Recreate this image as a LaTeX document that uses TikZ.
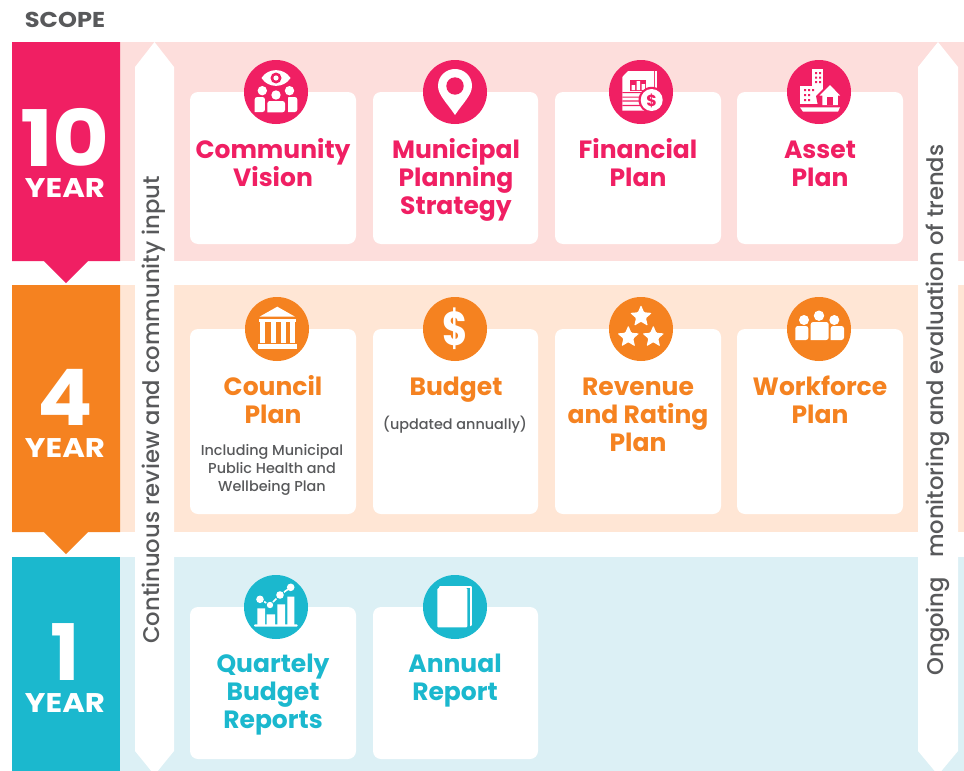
\documentclass[tikz,border=0pt]{standalone}
\usepackage{fontspec}
\setmainfont{Poppins}
\newfontfamily\medfont{Poppins Medium}
\usetikzlibrary{shapes.geometric}
\definecolor{cpink}{HTML}{F01F63}
\definecolor{corange}{HTML}{F58220}
\definecolor{cteal}{HTML}{1BB8CE}
\definecolor{bpink}{HTML}{FDDEDC}
\definecolor{borange}{HTML}{FFE6D5}
\definecolor{bteal}{HTML}{DCF0F5}
\definecolor{cgray}{HTML}{58595B}
\newcommand{\cardbox}[4]{\fill[white,rounded corners=8pt] (#1,#2) rectangle (#3,#4);}
\newcommand{\bodyshape}[4]{\fill[white,rounded corners=2.5pt] (#1,#4) -- (#1,#2) -- (#3,#2) -- (#3,#4) [sharp corners] -- cycle;}
\newcommand{\hdot}[3]{\fill[white] (#1,#2) circle[radius=#3];}
\tikzset{
  title/.style={font=\fontsize{25}{28}\selectfont\bfseries,align=center,inner sep=0pt},
  small/.style={font=\fontsize{14.4}{18}\selectfont\medfont,align=center,inner sep=0pt,text=cgray},
  bignum/.style={font=\fontsize{78}{78}\selectfont\bfseries,inner sep=0pt,text=white},
  yearlab/.style={font=\fontsize{27}{28}\selectfont\bfseries,inner sep=0pt,text=white},
  sidelab/.style={font=\fontsize{22.7}{24}\selectfont\medfont,inner sep=0pt,text=cgray,rotate=90}
}
\begin{document}
\begin{tikzpicture}[x=1pt,y=-1pt]
\useasboundingbox (0,0) rectangle (964,771);
\fill[white] (0,0) rectangle (964,771);
% bands
\fill[bpink] (120,42) rectangle (964,261);
\fill[borange] (120,285) rectangle (964,532);
\fill[bteal] (120,557) rectangle (964,771);
% scope bars
\fill[cpink] (12,42) -- (120,42) -- (120,261) -- (88,261) -- (66,283) -- (44,261) -- (12,261) -- cycle;
\fill[corange] (12,285) -- (120,285) -- (120,532) -- (88,532) -- (66,554) -- (44,532) -- (12,532) -- cycle;
\fill[cteal] (12,557) rectangle (120,771);
% white double arrows
\fill[white] (154.5,42) -- (174,67) -- (174,751) -- (154.5,775) -- (135,751) -- (135,67) -- cycle;
\fill[white] (938,42) -- (958,67) -- (958,751) -- (938,775) -- (918,751) -- (918,67) -- cycle;
% cards
\cardbox{190}{92}{356}{244}\cardbox{373}{92}{538}{244}\cardbox{555}{92}{721}{244}\cardbox{737}{92}{903}{244}
\cardbox{190}{329}{356}{514}\cardbox{373}{329}{538}{514}\cardbox{555}{329}{721}{514}\cardbox{737}{329}{903}{514}
\cardbox{190}{607}{356}{759}\cardbox{373}{607}{538}{759}
% discs
\foreach \cx in {276,455,641,819} \fill[cpink] (\cx,92) circle[radius=32];
\foreach \cx in {277,455,641,819} \fill[corange] (\cx,329) circle[radius=32];
\foreach \cx in {276,455} \fill[cteal] (\cx,607) circle[radius=32];
% community icon
\fill[white] (261.5,78) .. controls (268,67.5) and (284,67.5) .. (290.5,78) .. controls (284,88.5) and (268,88.5) .. (261.5,78) -- cycle;
\fill[cpink] (276,78) circle[radius=5.5];
\hdot{276}{78}{2.6}
\hdot{262.3}{90.7}{4.7}\hdot{289.5}{90.7}{4.7}
\bodyshape{254.7}{97}{265}{112}\bodyshape{286.7}{97}{297.3}{112}
\fill[cpink] (264.5,96) rectangle (287.5,113);
\fill[cpink] (276,95) circle[radius=6];
\hdot{276}{95}{4.7}
\bodyshape{267.3}{101}{285}{112.3}
% pin icon
\fill[white] (455,115) .. controls (447,103) and (438,95) .. (438,86) .. controls (438,76) and (446,69) .. (455,69) .. controls (464,69) and (472,76) .. (472,86) .. controls (472,95) and (463,103) .. (455,115) -- cycle;
\fill[cpink] (455,86) circle[radius=8.7];
% financial icon
\fill[white] (628,71) -- (654,71) -- (654,110.5) -- (622.3,110.5) -- (622.3,77) -- cycle;
\fill[white] (655.3,71) rectangle (657.3,90);
\fill[cpink] (630,80) rectangle (646,90.5);
\fill[white] (631.5,85) rectangle (635,90) (636.5,81) rectangle (640,90) (641.5,84) rectangle (645,90);
\fill[cpink] (622.3,92) rectangle (646,93.2) (622.3,96.5) rectangle (642,97.7) (622.3,100.3) rectangle (640,101.5) (622.3,104.8) rectangle (640,106);
\fill[cpink] (651.7,100) circle[radius=13.2];
\hdot{651.7}{100}{11}
\node[inner sep=0pt,text=cpink,font=\fontsize{16}{16}\selectfont\bfseries] (dollarsmall) at (651.7,100.5) {\$};
% asset icon
\fill[white] (812.3,69.3) rectangle (823.3,96);
\fill[white] (800,86) rectangle (818.3,103.5);
\fill[cpink] (804,89) rectangle (806,91) (808,89) rectangle (810,91) (812,89) rectangle (814,91)
 (804,94) rectangle (806,96) (808,94) rectangle (810,96) (804,99) rectangle (806,101) (808,99) rectangle (810,101)
 (815,72) rectangle (817,74) (819,72) rectangle (821,74) (815,76.5) rectangle (817,78.5) (819,76.5) rectangle (821,78.5)
 (815,81) rectangle (817,83) (819,81) rectangle (821,83);
\fill[cpink] (830,82) -- (843,96) -- (841,106) -- (818,106) -- (816,96) -- cycle;
\fill[white] (830,85) -- (840,95.5) -- (837.8,95.5) -- (837.8,105) -- (822.4,105) -- (822.4,95.5) -- (819.5,95.5) -- cycle;
\fill[cpink] (827,96.5) rectangle (833,105);
\fill[white] (800,107.3) -- (840,107.3) -- (838,111.7) -- (803,111.7) -- cycle;
% columns icon
\fill[white] (277.3,306.7) -- (295,316.7) -- (259.5,316.7) -- cycle;
\fill[white] (259,319) rectangle (296,322.3);
\foreach \ca in {260,270.5,281,290} \fill[white] (\ca,322) rectangle (\ca+5,343);
\fill[white] (257.7,344.2) rectangle (296.7,349);
% dollar icon
\node[inner sep=0pt,text=white,font=\fontsize{44}{44}\selectfont\bfseries] (dollarbig) at (455,329) {\scalebox{0.88}[1.08]{\$}};
% stars icon
\node[star,star points=5,star point ratio=2.2,fill=white,inner sep=0pt,minimum size=23pt,rounded corners=1pt] (stara) at (641,316.5) {};
\node[star,star points=5,star point ratio=2.2,fill=white,inner sep=0pt,minimum size=23pt,rounded corners=1pt] (starb) at (628.3,337) {};
\node[star,star points=5,star point ratio=2.2,fill=white,inner sep=0pt,minimum size=23pt,rounded corners=1pt] (starc) at (653.3,337) {};
% people icon
\hdot{804}{320}{5}\hdot{819}{315.7}{5.2}\hdot{834.3}{320}{5}
\bodyshape{795.3}{326}{808.3}{340}\bodyshape{810.7}{322}{828.7}{340}\bodyshape{830.7}{326}{844}{340}
% chart icon
\fill[white] (257.3,608.3) rectangle (265,625) (266.7,614.3) rectangle (275,625) (277.3,604.3) rectangle (285,625) (287.3,596.7) rectangle (294.3,625);
\fill[white,rounded corners=1pt] (254,624.3) rectangle (297.7,626.7);
\draw[cteal,line width=3.2pt] (260,599.3) -- (270,605) -- (280,595) -- (290.7,587.3);
\draw[white,line width=1.6pt] (260,599.3) -- (270,605) -- (280,595) -- (290.7,587.3);
\fill[cteal] (260,599.3) circle[radius=5] (270,605) circle[radius=4.4] (280,595) circle[radius=5];
\hdot{260}{599.3}{3.8}\hdot{270}{605}{3.2}\hdot{280}{595}{3.8}\hdot{290.7}{587.3}{3.8}
% book icon
\fill[white,rounded corners=1pt] (439,586) rectangle (471.8,626);
\fill[cteal] (437,588) rectangle (469.5,628.6);
\fill[white,rounded corners=1pt] (437.3,588.2) rectangle (467.3,627.3);
% texts
\node[inner sep=0pt,text=cgray,font=\fontsize{21.5}{22}\selectfont\bfseries] (scope) at (65,20) {\scalebox{1.12}[1]{SCOPE}};
\node[bignum] (n10) at (65,137.5) {\scalebox{1.12}[1]{10}};
\node[yearlab] (y10) at (65,188) {\scalebox{1.14}[1]{YEAR}};
\node[bignum] (n4) at (65.5,397.5) {\scalebox{1.05}[1]{4}};
\node[yearlab] (y4) at (65,448) {\scalebox{1.14}[1]{YEAR}};
\node[bignum] (n1) at (65,652.5) {1};
\node[yearlab] (y1) at (65,703) {\scalebox{1.14}[1]{YEAR}};
\node[sidelab] (sideleft) at (154,410) {Continuous review and community input};
\node[sidelab] (sideright) at (938,410) {Ongoing\hspace{19pt}monitoring and evaluation of trends};
\node[title,text=cpink] (t1) at (273,163) {Community\\Vision};
\node[title,text=cpink] (t2) at (456,180) {Municipal\\Planning\\Strategy};
\node[title,text=cpink] (t3) at (638,163) {Financial\\Plan};
\node[title,text=cpink] (t4) at (820,164) {Asset\\Plan};
\node[title,text=corange] (t5) at (273,400) {Council\\Plan};
\node[small] (t5b) at (272,470) {Including Municipal\\Public Health and\\Wellbeing Plan};
\node[title,text=corange] (t6) at (456,390) {Budget};
\node[small] (t6b) at (455,424.5) {(updated annually)};
\node[title,text=corange] (t7) at (638,415) {Revenue\\and Rating\\Plan};
\node[title,text=corange] (t8) at (820,400) {Workforce\\Plan};
\node[title,text=cteal] (t9) at (273,695) {Quartely\\Budget\\Reports};
\node[title,text=cteal] (t10) at (455,681) {Annual\\Report};
\end{tikzpicture}
\end{document}
